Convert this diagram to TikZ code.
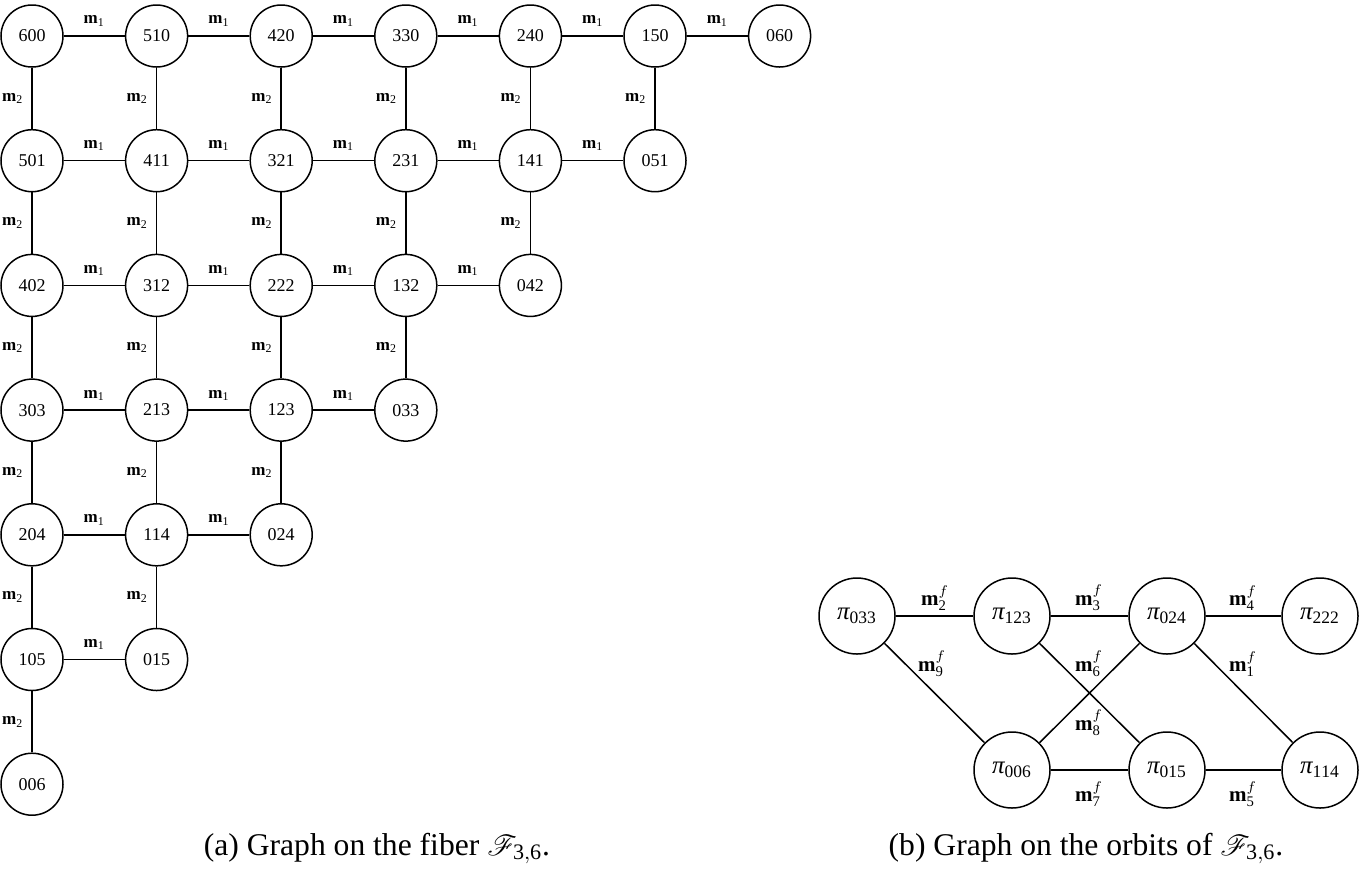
\documentclass[tikz,border=0pt]{standalone}
\usepackage{mathrsfs}
\usepackage{fontspec}
\setmainfont{Liberation Serif}
\newcommand{\mypi}{\textit{π}}
\begin{document}
\begin{tikzpicture}[x=0.5pt,y=-0.5pt,
  fnode/.style={draw,circle,line width=0.75pt,minimum size=31pt,inner sep=0pt,font=\fontsize{9}{11}\selectfont},
  onode/.style={draw,circle,line width=0.75pt,minimum size=38pt,inner sep=0pt,font=\fontsize{12.5}{14}\selectfont},
  edge/.style={line width=0.75pt},
  flab/.style={font=\fontsize{8.5}{10}\selectfont,inner sep=0pt},
  olab/.style={font=\fontsize{10.5}{12}\selectfont,inner sep=0pt},
  captext/.style={font=\fontsize{15.8}{19}\selectfont,anchor=base,inner sep=0pt}]
\useasboundingbox (0,0) rectangle (1363,875);
% left graph
\foreach \lab/\x/\y in {600/0/0,510/1/0,420/2/0,330/3/0,240/4/0,150/5/0,060/6/0,
 501/0/1,411/1/1,321/2/1,231/3/1,141/4/1,051/5/1,
 402/0/2,312/1/2,222/2/2,132/3/2,042/4/2,
 303/0/3,213/1/3,123/2/3,033/3/3,
 204/0/4,114/1/4,024/2/4,
 105/0/5,015/1/5,
 006/0/6}
  \node[fnode] (n\lab) at ({32+124.6*\x},{36+124.7*\y}) {\lab};
% horizontal edges (m1)
\foreach \a/\b in {600/510,510/420,420/330,330/240,240/150,150/060,
 501/411,411/321,321/231,231/141,141/051,
 402/312,312/222,222/132,132/042,
 303/213,213/123,123/033,
 204/114,114/024,
 105/015}
  \draw[edge] (n\a) -- node[flab,above=4.5pt] {$\mathbf{m}_{\mathrm{1}}$} (n\b);
% vertical edges (m2)
\foreach \a/\b in {600/501,501/402,402/303,303/204,204/105,105/006,
 510/411,411/312,312/213,213/114,114/015,
 420/321,321/222,222/123,123/024,
 330/231,231/132,132/033,
 240/141,141/042,
 150/051}
  \draw[edge] (n\a) -- node[flab,left=4pt] {$\mathbf{m}_{\mathrm{2}}$} (n\b);
% right graph
\node[onode] (p033) at (857,616) {$\mypi_{\mathrm{033}}$};
\node[onode] (p123) at (1012,616) {$\mypi_{\mathrm{123}}$};
\node[onode] (p024) at (1167,616) {$\mypi_{\mathrm{024}}$};
\node[onode] (p222) at (1320,616) {$\mypi_{\mathrm{222}}$};
\node[onode] (p006) at (1012,770) {$\mypi_{\mathrm{006}}$};
\node[onode] (p015) at (1167,770) {$\mypi_{\mathrm{015}}$};
\node[onode] (p114) at (1320,770) {$\mypi_{\mathrm{114}}$};
\draw[edge] (p033) -- (p123);
\draw[edge] (p123) -- (p024);
\draw[edge] (p024) -- (p222);
\draw[edge] (p033) -- (p006);
\draw[edge] (p123) -- (p015);
\draw[edge] (p006) -- (p024);
\draw[edge] (p024) -- (p114);
\draw[edge] (p006) -- (p015);
\draw[edge] (p015) -- (p114);
\node[olab] (l2) at (935,598) {$\mathbf{m}^f_{\mathrm{2}}$};
\node[olab] (l3) at (1089,598) {$\mathbf{m}^f_{\mathrm{3}}$};
\node[olab] (l4) at (1243,598) {$\mathbf{m}^f_{\mathrm{4}}$};
\node[olab] (l9) at (932,664) {$\mathbf{m}^f_{\mathrm{9}}$};
\node[olab] (l6) at (1089,664) {$\mathbf{m}^f_{\mathrm{6}}$};
\node[olab] (l1) at (1243,664) {$\mathbf{m}^f_{\mathrm{1}}$};
\node[olab] (l8) at (1089,723) {$\mathbf{m}^f_{\mathrm{8}}$};
\node[olab] (l7) at (1089,794) {$\mathbf{m}^f_{\mathrm{7}}$};
\node[olab] (l5) at (1243,794) {$\mathbf{m}^f_{\mathrm{5}}$};
% captions
\node[captext] (capa) at (377,855) {(a) Graph on the fiber $\mathscr{F}_{\mathrm{3,6}}$.};
\node[captext] (capb) at (1086,855) {(b) Graph on the orbits of $\mathscr{F}_{\mathrm{3,6}}$.};
\end{tikzpicture}
\end{document}
